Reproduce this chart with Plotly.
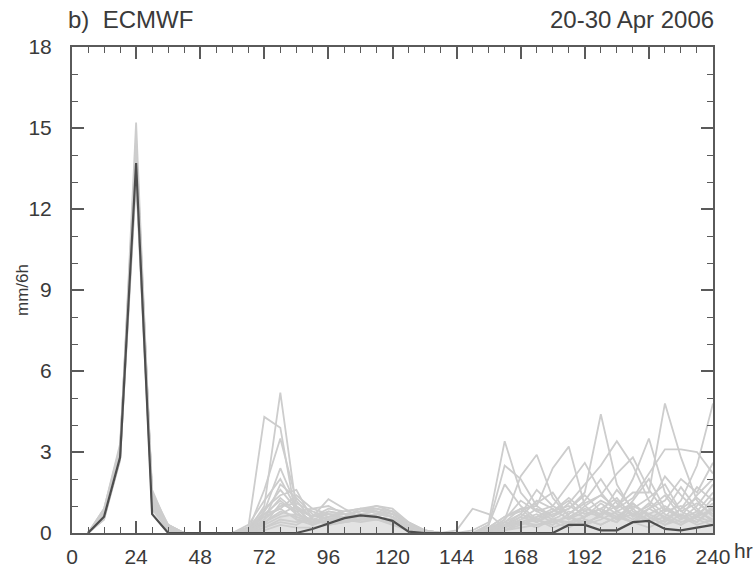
import plotly.graph_objects as go

# Forecast lead times (hours)
lead_hours = [6, 12, 18, 24, 30, 36, 42, 48,
              54, 60, 66, 72, 78, 84, 90, 96,
              102, 108, 114, 120, 126, 132, 138, 144,
              150, 156, 162, 168, 174, 180, 186, 192,
              198, 204, 210, 216, 222, 228, 234, 240]

# Ensemble members, 6-hourly precipitation (mm/6h)
member_01 = [0, 0.6, 2.9, 15.2, 1.0, 0.1, 0, 0,
             0, 0, 0.1, 1.0, 5.2, 0.9, 0.4, 0.6,
             0.8, 0.9, 0.9, 0.7, 0.3, 0, 0, 0,
             0, 0.2, 0.6, 0.9, 0.4, 0.8, 1.2, 0.5,
             0.3, 0.6, 1.0, 0.7, 0.4, 0.9, 1.3, 0.8]
member_02 = [0, 0.8, 3.1, 14.6, 1.4, 0.2, 0, 0,
             0, 0, 0.2, 4.3, 3.9, 0.5, 0.3, 0.8,
             0.7, 0.8, 1.0, 0.9, 0.4, 0.1, 0, 0,
             0.1, 0.4, 3.4, 1.5, 0.8, 0.5, 0.3, 0.6,
             1.1, 0.7, 0.4, 0.9, 1.4, 0.6, 0.3, 0.5]
member_03 = [0, 0.7, 3.0, 14.1, 1.2, 0.3, 0, 0,
             0, 0, 0.1, 1.6, 3.5, 1.2, 0.5, 0.4,
             0.6, 0.7, 0.8, 0.6, 0.2, 0, 0, 0,
             0, 0.3, 2.5, 2.0, 1.0, 0.6, 0.9, 1.4,
             0.8, 0.5, 1.2, 2.0, 0.9, 0.5, 0.8, 1.5]
member_04 = [0, 0.9, 3.3, 13.6, 1.6, 0.2, 0, 0,
             0, 0, 0, 0.8, 2.4, 1.0, 0.6, 1.25,
             0.9, 0.6, 0.5, 0.4, 0.1, 0, 0, 0,
             0, 0.1, 0.5, 2.1, 2.9, 1.3, 0.6, 0.3,
             0.7, 1.6, 0.9, 0.4, 0.8, 1.7, 0.9, 0.4]
member_05 = [0, 0.5, 2.7, 13.1, 0.9, 0.1, 0, 0,
             0, 0, 0.1, 0.5, 1.8, 1.3, 0.7, 0.5,
             0.5, 0.6, 0.7, 0.8, 0.3, 0.1, 0, 0,
             0, 0, 0.4, 0.9, 1.0, 2.4, 3.2, 1.0,
             0.6, 0.4, 1.1, 0.6, 0.3, 0.5, 1.0, 1.8]
member_06 = [0, 0.7, 2.8, 13.9, 1.1, 0.2, 0, 0,
             0, 0, 0.2, 0.9, 1.4, 1.6, 0.5, 0.3,
             0.4, 0.5, 0.6, 0.5, 0.2, 0, 0, 0,
             0, 0.1, 0.3, 0.6, 0.4, 0.7, 0.9, 1.5,
             4.4, 1.8, 0.8, 0.5, 0.9, 0.6, 0.4, 1.0]
member_07 = [0, 0.6, 2.9, 14.3, 1.3, 0.2, 0, 0,
             0, 0, 0, 0.3, 1.1, 0.8, 0.9, 1.0,
             0.7, 0.8, 0.8, 0.6, 0.3, 0.1, 0, 0,
             0, 0, 0.2, 0.5, 0.9, 0.6, 1.1, 1.8,
             2.5, 3.4, 2.5, 1.2, 0.7, 0.4, 0.6, 0.9]
member_08 = [0, 0.8, 3.0, 13.8, 1.0, 0.1, 0, 0,
             0, 0, 0.1, 0.6, 0.9, 0.5, 0.4, 0.6,
             0.6, 0.9, 0.8, 0.7, 0.4, 0.1, 0, 0,
             0, 0.2, 0.4, 0.3, 0.6, 0.9, 0.5, 0.8,
             1.2, 0.9, 2.0, 3.5, 1.5, 0.8, 0.5, 0.3]
member_09 = [0, 0.6, 2.8, 14.0, 1.2, 0.2, 0, 0,
             0, 0, 0.1, 0.4, 0.7, 1.0, 0.3, 0.5,
             0.5, 0.6, 0.7, 0.6, 0.2, 0, 0, 0,
             0, 0.1, 0.2, 0.5, 0.7, 0.4, 0.6, 0.9,
             0.7, 1.0, 1.5, 1.5, 4.8, 2.8, 1.2, 0.6]
member_10 = [0, 0.7, 3.1, 14.4, 1.4, 0.2, 0, 0,
             0, 0, 0, 0.2, 0.5, 0.4, 0.5, 0.7,
             0.6, 0.7, 0.6, 0.5, 0.2, 0, 0, 0.1,
             0.9, 0.7, 0.2, 0.4, 0.6, 0.8, 1.0, 0.7,
             0.9, 0.6, 0.4, 0.7, 1.0, 0.6, 1.4, 2.0]
member_11 = [0, 0.9, 3.2, 13.4, 1.5, 0.3, 0, 0,
             0, 0, 0.2, 0.7, 1.2, 0.7, 0.5, 0.4,
             0.5, 0.5, 0.6, 0.4, 0.1, 0, 0, 0,
             0, 0, 0.3, 0.7, 0.5, 0.3, 0.7, 1.1,
             1.4, 0.9, 1.3, 2.2, 3.1, 3.1, 3.0, 2.2]
member_12 = [0, 0.6, 2.7, 13.3, 1.1, 0.1, 0, 0,
             0, 0, 0, 0.4, 0.8, 0.6, 0.4, 0.5,
             0.4, 0.5, 0.5, 0.4, 0.1, 0, 0, 0,
             0, 0, 0.1, 0.4, 0.3, 0.5, 0.4, 0.6,
             0.9, 0.5, 0.7, 0.4, 0.6, 1.2, 2.5, 4.8]
member_13 = [0, 0.7, 3.0, 14.2, 1.3, 0.2, 0, 0,
             0, 0, 0.1, 0.8, 1.6, 0.9, 0.6, 0.9,
             0.8, 0.9, 1.0, 0.8, 0.4, 0.1, 0, 0,
             0, 0.1, 0.5, 1.2, 0.8, 1.0, 1.8, 2.6,
             1.5, 0.8, 0.5, 0.9, 0.6, 0.3, 0.7, 1.1]
member_14 = [0, 0.8, 3.1, 13.7, 1.2, 0.2, 0, 0,
             0, 0, 0, 0.5, 1.0, 1.1, 0.8, 0.6,
             0.6, 0.6, 0.7, 0.6, 0.2, 0, 0, 0,
             0, 0, 0.2, 0.6, 1.2, 0.9, 0.5, 1.0,
             1.4, 2.2, 2.8, 1.6, 0.8, 1.0, 0.6, 1.3]
member_15 = [0, 0.5, 2.8, 13.5, 1.0, 0.1, 0, 0,
             0, 0, 0.1, 0.3, 0.6, 0.7, 0.4, 0.4,
             0.5, 0.4, 0.5, 0.3, 0.1, 0, 0, 0,
             0, 0.2, 0.6, 0.8, 1.1, 1.5, 0.6, 0.4,
             0.6, 1.2, 0.7, 1.0, 2.1, 1.4, 0.8, 0.5]
member_16 = [0, 0.6, 2.9, 14.0, 1.1, 0.2, 0, 0,
             0, 0, 0.2, 0.6, 1.3, 0.8, 0.3, 0.5,
             0.6, 0.7, 0.6, 0.5, 0.3, 0, 0, 0,
             0, 0.1, 0.3, 0.4, 0.2, 0.5, 0.8, 0.6,
             0.9, 1.3, 0.6, 1.1, 0.5, 0.9, 1.7, 1.2]
member_17 = [0, 0.7, 3.0, 13.9, 1.2, 0.2, 0, 0,
             0, 0, 0, 0.2, 0.4, 0.3, 0.6, 0.7,
             0.7, 0.6, 0.7, 0.6, 0.2, 0, 0, 0,
             0, 0, 0.1, 0.3, 0.5, 0.2, 0.4, 0.3,
             0.5, 0.8, 1.1, 0.6, 0.3, 0.7, 0.4, 0.9]
member_18 = [0, 0.8, 3.0, 14.1, 1.3, 0.2, 0, 0,
             0, 0, 0.1, 0.7, 0.9, 1.4, 0.9, 0.7,
             0.6, 0.7, 0.8, 0.7, 0.3, 0.1, 0, 0,
             0, 0.3, 1.8, 1.0, 0.5, 0.8, 1.3, 0.8,
             0.6, 0.4, 0.9, 1.3, 1.8, 0.8, 1.1, 0.7]
member_19 = [0, 0.6, 2.9, 13.8, 1.1, 0.1, 0, 0,
             0, 0, 0, 0.1, 0.3, 0.2, 0.2, 0.3,
             0.4, 0.5, 0.5, 0.4, 0.1, 0, 0, 0,
             0, 0, 0.1, 0.2, 0.3, 0.4, 0.2, 0.5,
             0.3, 0.6, 0.4, 0.2, 0.5, 0.3, 0.6, 0.4]
member_20 = [0, 0.7, 3.1, 14.3, 1.4, 0.3, 0, 0,
             0, 0, 0.3, 1.2, 2.0, 0.9, 0.6, 0.8,
             0.7, 0.8, 0.9, 0.8, 0.3, 0, 0, 0,
             0, 0.1, 0.4, 0.7, 1.6, 1.0, 0.7, 1.2,
             2.0, 1.1, 0.6, 0.9, 1.2, 2.0, 1.5, 2.6]

members = [member_01, member_02, member_03, member_04, member_05,
           member_06, member_07, member_08, member_09, member_10,
           member_11, member_12, member_13, member_14, member_15,
           member_16, member_17, member_18, member_19, member_20]

# Ensemble spread band (lower / upper)
spread_low = [0, 0.5, 2.6, 13.0, 0.8, 0, 0, 0,
              0, 0, 0, 0, 0, 0, 0, 0,
              0, 0, 0, 0, 0, 0, 0, 0,
              0, 0, 0, 0, 0, 0, 0, 0,
              0, 0, 0, 0, 0, 0, 0, 0]
spread_high = [0, 0.9, 3.3, 14.5, 1.5, 0.3, 0, 0,
               0, 0, 0.1, 0.5, 0.8, 0.7, 0.4, 0.5,
               0.5, 0.6, 0.6, 0.5, 0.2, 0, 0, 0,
               0, 0.1, 0.3, 0.5, 0.6, 0.6, 0.6, 0.7,
               0.8, 0.8, 0.8, 0.8, 0.7, 0.7, 0.8, 0.9]

# Verifying observation
observed = [0, 0.6, 2.8, 13.7, 0.7, 0, 0, 0,
            0, 0, 0, 0, 0, 0, 0.15, 0.35,
            0.55, 0.65, 0.6, 0.45, 0.05, 0, 0, 0,
            0, 0, 0, 0, 0, 0, 0.3, 0.3,
            0.1, 0.1, 0.4, 0.45, 0.15, 0.1, 0.2, 0.3]

x_ticks = [0, 24, 48, 72, 96, 120, 144, 168, 192, 216, 240]
y_ticks = [0, 3, 6, 9, 12, 15, 18]

FONT = "Liberation Sans, Arial, Helvetica, sans-serif"
AXIS_COLOR = "#5a5a5a"
TEXT_COLOR = "#3a3a3a"

fig = go.Figure()

fig.add_trace(go.Scatter(x=lead_hours, y=spread_low, mode="lines",
                         line=dict(width=0), hoverinfo="skip", showlegend=False))
fig.add_trace(go.Scatter(x=lead_hours, y=spread_high, mode="lines",
                         line=dict(width=0), fill="tonexty",
                         fillcolor="rgba(200,200,200,0.5)",
                         hoverinfo="skip", showlegend=False))

for m in members:
    fig.add_trace(go.Scatter(x=lead_hours, y=m, mode="lines",
                             line=dict(color="#cdcdcd", width=1.8),
                             showlegend=False))

fig.add_trace(go.Scatter(x=lead_hours, y=observed, mode="lines",
                         line=dict(color="#4d4d4d", width=2.2),
                         showlegend=False))

axis_common = dict(
    showgrid=False, zeroline=False, automargin=False,
    showline=True, linecolor=AXIS_COLOR, linewidth=2,
    mirror="ticks", ticks="inside", ticklen=12, tickwidth=1.8,
    tickcolor=AXIS_COLOR,
    tickfont=dict(family=FONT, size=21, color=TEXT_COLOR),
)

fig.update_xaxes(range=[0, 240], tickvals=x_ticks, ticklabelstandoff=4,
                 minor=dict(ticks="inside", dtick=6, tick0=0, ticklen=6,
                            tickwidth=1.4, tickcolor=AXIS_COLOR),
                 **axis_common)
fig.update_yaxes(range=[0, 18], tickvals=y_ticks, ticklabelstandoff=14,
                 minor=dict(ticks="inside", dtick=1, tick0=0, ticklen=6,
                            tickwidth=1.4, tickcolor=AXIS_COLOR),
                 **axis_common)

fig.update_layout(
    width=753, height=574,
    margin=dict(l=72, r=40, t=47, b=41, autoexpand=False),
    paper_bgcolor="white", plot_bgcolor="white",
    showlegend=False,
    annotations=[
        dict(text="b)  ECMWF", xref="paper", yref="paper", x=-0.01, y=1.0,
             xanchor="left", yanchor="bottom", yshift=12, showarrow=False,
             font=dict(family=FONT, size=24, color=TEXT_COLOR)),
        dict(text="20-30 Apr 2006", xref="paper", yref="paper", x=1.005, y=1.0,
             xanchor="right", yanchor="bottom", yshift=12, showarrow=False,
             font=dict(family=FONT, size=24, color=TEXT_COLOR)),
        dict(text="mm/6h", xref="paper", yref="paper", x=-0.078, y=0.5,
             xanchor="center", yanchor="middle", textangle=-90, showarrow=False,
             font=dict(family=FONT, size=17, color=TEXT_COLOR)),
        dict(text="hr", xref="paper", yref="paper", x=1.03, y=0.0,
             xanchor="left", yanchor="top", yshift=-4, showarrow=False,
             font=dict(family=FONT, size=21, color=TEXT_COLOR)),
    ],
)

fig.write_html("out.html")
